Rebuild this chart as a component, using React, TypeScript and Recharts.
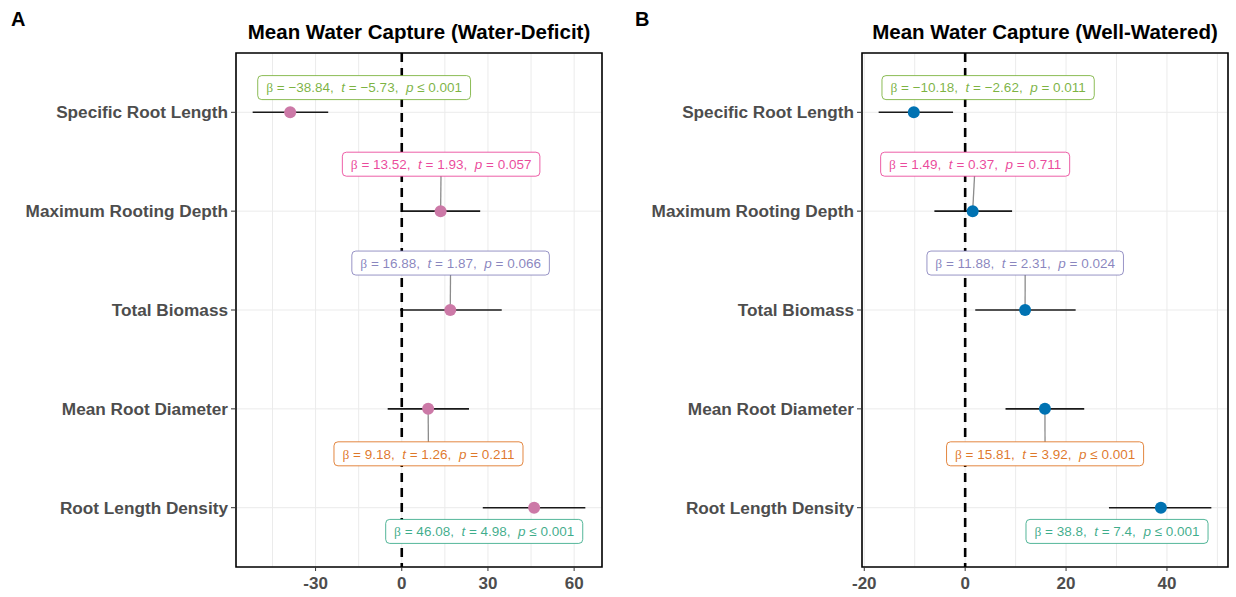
import React from 'react';
import { ScatterChart, Scatter, XAxis, YAxis, CartesianGrid, ErrorBar, ReferenceArea } from 'recharts';

// ---------- data ----------
const predictors = [
  'Specific Root Length',
  'Maximum Rooting Depth',
  'Total Biomass',
  'Mean Root Diameter',
  'Root Length Density',
];
const rowIndex = [1, 2, 3, 4, 5];
const labelColors = ['#66A61E', '#E7298A', '#7570B3', '#D95F02', '#1B9E77'];

// Panel A: Water-Deficit
const betaA = [-38.84, 13.52, 16.88, 9.18, 46.08];
const tA = [-5.73, 1.93, 1.87, 1.26, 4.98];
const pA = [0.001, 0.057, 0.066, 0.211, 0.001];
const lowA = [-51.9, -0.3, -0.6, -4.9, 28.2];
const highA = [-25.6, 27.3, 34.8, 23.4, 63.9];
const labelXA = [-13.1, 13.7, 17.0, 9.3, 28.7];
const labelYA = [0.75, 1.525, 2.525, 4.455, 5.24];
const connectorA = [false, true, true, true, false];
const domainA: [number, number] = [-57.7, 69.7];
const majorTicksA = [-30, 0, 30, 60];
const gridTicksA = [-45, -30, -15, 0, 15, 30, 45, 60];

// Panel B: Well-Watered
const betaB = [-10.18, 1.49, 11.88, 15.81, 38.8];
const tB = [-2.62, 0.37, 2.31, 3.92, 7.4];
const pB = [0.011, 0.711, 0.024, 0.001, 0.001];
const lowB = [-17.15, -6.1, 2.0, 8.0, 28.5];
const highB = [-2.4, 9.3, 21.9, 23.6, 48.8];
const labelXB = [4.55, 1.98, 11.9, 15.84, 30.1];
const labelYB = [0.75, 1.525, 2.525, 4.455, 5.24];
const connectorB = [false, true, true, true, false];
const domainB: [number, number] = [-20.45, 52.1];
const majorTicksB = [-20, 0, 20, 40];
const gridTicksB = [-20, -10, 0, 10, 20, 30, 40, 50];

// ---------- helpers ----------
const FONT = '"Liberation Sans", Arial, Helvetica, sans-serif';
let ctx: CanvasRenderingContext2D | null = null;
function measure(text: string, font: string): number {
  if (!ctx) ctx = document.createElement('canvas').getContext('2d');
  if (!ctx) return text.length * 6.5;
  ctx.font = font;
  return ctx.measureText(text).width;
}
const fmt = (n: number) => (n < 0 ? '\u2212' + Math.abs(n) : String(n));
const fmtP = (p: number) => (p <= 0.001 ? ' \u2264 0.001' : ' = ' + String(p));

const Empty = () => <g />;

const XTick = (props: any) => {
  const { x, y, payload, major } = props;
  if (!major.includes(payload.value)) return <g />;
  return (
    <g>
      <line x1={x} x2={x} y1={y - 7} y2={y - 3} stroke="#333" strokeWidth={1} />
      <text x={x} y={y} dy={15} textAnchor="middle" fill="#4D4D4D" fontSize={17} fontWeight={700} fontFamily={FONT}>
        {String(payload.value)}
      </text>
    </g>
  );
};

const LabelBox = (props: any) => {
  const { cx, cy, payload } = props;
  if (cx == null || cy == null) return <g />;
  const { beta, t, p, color } = payload;
  const s1 = ` = ${fmt(beta)},  `;
  const s2 = ` = ${fmt(t)},  `;
  const s3 = fmtP(p);
  const full = 'β' + s1 + 't' + s2 + 'p' + s3;
  const fs = 13.5;
  const w = measure(full, `${fs}px ${FONT}`) + 16;
  const h = 24;
  return (
    <g>
      <rect x={cx - w / 2} y={cy - h / 2} width={w} height={h} rx={4} ry={4} fill="#fff" stroke={color} strokeOpacity={0.75} strokeWidth={1} />
      <text x={cx} y={cy} dy={4.8} textAnchor="middle" fill={color} fillOpacity={0.85} fontSize={fs} fontFamily={FONT} style={{ whiteSpace: 'pre' }}>
        <tspan fontFamily='"Liberation Serif", "DejaVu Serif", serif'>β</tspan>
        <tspan>{s1}</tspan>
        <tspan fontStyle="italic">t</tspan>
        <tspan>{s2}</tspan>
        <tspan fontStyle="italic">p</tspan>
        <tspan>{s3}</tspan>
      </text>
    </g>
  );
};

type PanelProps = {
  tag: string;
  title: string;
  beta: number[];
  t: number[];
  p: number[];
  low: number[];
  high: number[];
  labelX: number[];
  labelY: number[];
  connector: boolean[];
  pointColor: string;
  domain: [number, number];
  majorTicks: number[];
  gridTicks: number[];
  yAxisWidth: number;
  rightMargin: number;
  tagX: number;
};

const W = 618;
const H = 597;
const TOP = 53;

function Panel(props: PanelProps) {
  const { tag, title, beta, t, p, low, high, labelX, labelY, connector, pointColor, domain, majorTicks, gridTicks, yAxisWidth, rightMargin, tagX } = props;
  const pointData = rowIndex.map((r, i) => ({ x: beta[i], y: r, errX: [beta[i] - low[i], high[i] - beta[i]] }));
  const labelData = rowIndex.map((r, i) => ({ x: labelX[i], y: labelY[i], beta: beta[i], t: t[i], p: p[i], color: labelColors[i] }));
  const zeroData = [{ x: 0, y: 0.4 }, { x: 0, y: 5.6 }];
  const plotLeft = yAxisWidth;
  const plotRight = W - rightMargin;
  const Dot = (dp: any) => (dp.cx == null ? <g /> : <circle cx={dp.cx} cy={dp.cy} r={6} fill={pointColor} />);
  return (
    <div style={{ position: 'relative', width: W, height: H }}>
      <svg width={W} height={60} style={{ position: 'absolute', left: 0, top: 0 }}>
        <text x={tagX} y={26} fontSize={20} fontWeight={700} fontFamily={FONT} fill="#000">{tag}</text>
        <text x={(plotLeft + plotRight) / 2} y={39} textAnchor="middle" fontSize={20.5} fontWeight={700} fontFamily={FONT} fill="#000">{title}</text>
      </svg>
      <ScatterChart width={W} height={H} margin={{ top: TOP, right: rightMargin, bottom: 0, left: 0 }}>
        <CartesianGrid stroke="#EBEBEB" strokeWidth={1} />
        <XAxis
          type="number"
          dataKey="x"
          domain={domain}
          allowDataOverflow
          ticks={gridTicks}
          interval={0}
          height={30}
          axisLine={false}
          tickLine={false}
          tickSize={4}
          tickMargin={3}
          tick={<XTick major={majorTicks} />}
        />
        <YAxis
          type="number"
          dataKey="y"
          domain={[0.4, 5.6]}
          allowDataOverflow
          reversed
          ticks={rowIndex}
          interval={0}
          width={yAxisWidth}
          axisLine={false}
          tickSize={5}
          tickMargin={3}
          tickLine={{ stroke: '#333' }}
          tickFormatter={(v: number) => predictors[v - 1]}
          tick={{ fill: '#4D4D4D', fontSize: 17.2, fontWeight: 700, fontFamily: FONT }}
        />
        <ReferenceArea x1={domain[0]} x2={domain[1]} y1={0.4} y2={5.6} fill="none" fillOpacity={0} stroke="#000" strokeWidth={1.6} ifOverflow="visible" />
        <Scatter
          data={zeroData}
          line={{ stroke: '#000', strokeWidth: 2.6, strokeDasharray: '9 6' }}
          shape={Empty}
          isAnimationActive={false}
        />
        {rowIndex.map((r, i) =>
          connector[i] ? (
            <Scatter
              key={'c' + i}
              data={[{ x: beta[i], y: r }, { x: labelX[i], y: labelY[i] }]}
              line={{ stroke: '#8C8C8C', strokeWidth: 1.3 }}
              shape={Empty}
              isAnimationActive={false}
            />
          ) : null
        )}
        <Scatter data={pointData} shape={Dot} isAnimationActive={false}>
          <ErrorBar dataKey="errX" direction="x" width={0} stroke="#1a1a1a" strokeWidth={1.6} isAnimationActive={false} />
        </Scatter>
        <Scatter data={labelData} shape={LabelBox} isAnimationActive={false} />
      </ScatterChart>
    </div>
  );
}

export default function App() {
  return (
    <div style={{ position: 'absolute', left: 0, top: 0, width: 1236, height: 597, display: 'flex', background: '#fff' }}>
      <Panel
        tag="A"
        title="Mean Water Capture (Water-Deficit)"
        beta={betaA}
        t={tA}
        p={pA}
        low={lowA}
        high={highA}
        labelX={labelXA}
        labelY={labelYA}
        connector={connectorA}
        pointColor="#CC79A7"
        domain={domainA}
        majorTicks={majorTicksA}
        gridTicks={gridTicksA}
        yAxisWidth={236}
        rightMargin={16}
        tagX={11}
      />
      <Panel
        tag="B"
        title="Mean Water Capture (Well-Watered)"
        beta={betaB}
        t={tB}
        p={pB}
        low={lowB}
        high={highB}
        labelX={labelXB}
        labelY={labelYB}
        connector={connectorB}
        pointColor="#0072B2"
        domain={domainB}
        majorTicks={majorTicksB}
        gridTicks={gridTicksB}
        yAxisWidth={244}
        rightMargin={8}
        tagX={17}
      />
    </div>
  );
}
